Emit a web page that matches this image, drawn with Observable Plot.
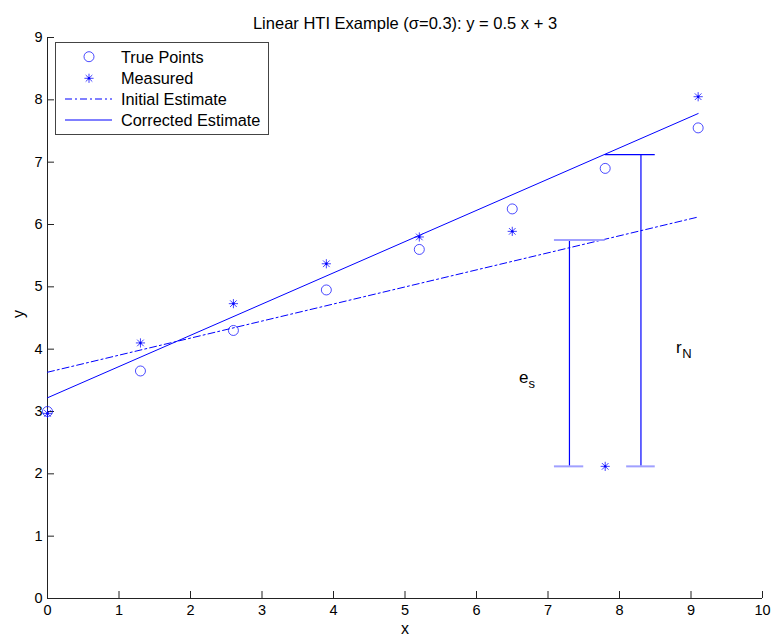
<!DOCTYPE html>
<html><head><meta charset="utf-8">
<script src="https://cdn.jsdelivr.net/npm/d3@7"></script>
<script src="https://cdn.jsdelivr.net/npm/@observablehq/plot@0.6"></script>
<style>
body{margin:0;background:#fff;}
#wrap{position:relative;width:775px;height:643px;font-family:"Liberation Sans",Arial,sans-serif;}
#legend{position:absolute;left:55px;top:42px;}
</style></head><body><div id="wrap"></div>
<script>
// ---- data ----
const titleText = "Linear HTI Example (\u03C3=0.3): y = 0.5 x + 3";
const xs = [0, 1.3, 2.6, 3.9, 5.2, 6.5, 7.8, 9.1];
const trueY = [3.0, 3.65, 4.3, 4.95, 5.6, 6.25, 6.9, 7.55];
const measuredY = [2.97, 4.1, 4.73, 5.37, 5.8, 5.89, 2.12, 8.05];
const lineX = [0, 9.1];
const initialY = [3.63, 6.12];
const correctedY = [3.22, 7.78];
const xTicks = [0, 1, 2, 3, 4, 5, 6, 7, 8, 9, 10];
const yTicks = [0, 1, 2, 3, 4, 5, 6, 7, 8, 9];
const barX = [7.3, 8.3];
const barLow = [2.12, 2.12];
const barHigh = [5.75, 7.12];
const capY = [5.75, 2.12, 7.12, 2.12];
const capX1 = [7.09, 7.09, 7.8, 8.1];
const capX2 = [7.8, 7.5, 8.5, 8.5];
const capLight = [true, true, false, true];
const labelMain = ["e", "r"];
const labelSub = ["s", "N"];
const labelX = [6.66, 8.83];
const labelY = [3.55, 4.03];
const legendLabels = ["True Points", "Measured", "Initial Estimate", "Corrected Estimate"];

// ---- layout ----
const W = 775, H = 643, mL = 47, mR = 13, mT = 37, mB = 45;
const frameW = W - mL - mR, frameH = H - mT - mB;
const blue = "#0000ff", lightBlue = "#a0a0ff";
const font = "Liberation Sans, Arial, sans-serif";

// MATLAB-style 8-armed asterisk
const asterisk8 = {
  draw(ctx, size) {
    const r = Math.sqrt(size / Math.PI), d = r * 0.72;
    ctx.moveTo(-r, 0); ctx.lineTo(r, 0);
    ctx.moveTo(0, -r); ctx.lineTo(0, r);
    ctx.moveTo(-d, -d); ctx.lineTo(d, d);
    ctx.moveTo(-d, d); ctx.lineTo(d, -d);
  }
};

const pts = xs.map((x, i) => ({x, t: trueY[i], m: measuredY[i]}));
const initLine = lineX.map((x, i) => ({x, y: initialY[i]}));
const corrLine = lineX.map((x, i) => ({x, y: correctedY[i]}));
const bars = barX.map((x, i) => ({x, y1: barLow[i], y2: barHigh[i]}));
const caps = capY.map((y, i) => ({y, x1: capX1[i], x2: capX2[i], light: capLight[i]}));
const labels = labelMain.map((t, i) => ({t, s: labelSub[i], x: labelX[i], y: labelY[i]}));

const chart = Plot.plot({
  width: W, height: H,
  marginLeft: mL, marginRight: mR, marginTop: mT, marginBottom: mB,
  style: {fontFamily: font, fontSize: "14px", background: "white", color: "black"},
  x: {domain: [0, 10]},
  y: {domain: [0, 9]},
  marks: [
    Plot.axisX(xTicks, {tickSize: 0, tickPadding: 6, fontSize: 14.5, label: null, tickFormat: d => String(d)}),
    Plot.axisY(yTicks, {tickSize: 0, tickPadding: 5, fontSize: 14.5, label: null, tickFormat: d => String(d)}),
    Plot.tickX(xTicks, {x: d => d, insetTop: frameH - 7, stroke: "#222"}),
    Plot.tickY(yTicks, {y: d => d, insetRight: frameW - 7, stroke: "#222"}),
    Plot.ruleX([0], {stroke: "#222"}),
    Plot.ruleY([0], {stroke: "#222"}),
    Plot.line(initLine, {x: "x", y: "y", stroke: blue, strokeWidth: 1, strokeDasharray: "7,3,2,3"}),
    Plot.line(corrLine, {x: "x", y: "y", stroke: blue, strokeWidth: 1}),
    Plot.ruleX(bars, {x: "x", y1: "y1", y2: "y2", stroke: blue, strokeWidth: 1.2}),
    Plot.ruleY(caps, {y: "y", x1: "x1", x2: "x2", stroke: d => d.light ? lightBlue : blue, strokeWidth: d => d.light ? 2 : 1.2}),
    Plot.dot(pts, {x: "x", y: "t", r: 5, stroke: blue, strokeWidth: 1, fill: "none", strokeOpacity: 0.7}),
    Plot.dot(pts, {x: "x", y: "m", r: 4.6, symbol: asterisk8, stroke: blue, strokeWidth: 1, strokeOpacity: 0.75}),
    Plot.dot(pts, {x: "x", y: "m", r: 1.2, fill: blue, stroke: "none"}),
    Plot.text(labels, {x: "x", y: "y", text: "t", fontSize: 17, textAnchor: "middle"}),
    Plot.text(labels, {x: "x", y: "y", text: "s", fontSize: 13, textAnchor: "middle", dx: 8, dy: 7}),
    Plot.text([titleText], {frameAnchor: "top", dy: -20, fontSize: 16.5, text: d => d}),
    Plot.text(["x"], {frameAnchor: "bottom", dy: 35, fontSize: 16, text: d => d}),
    Plot.text(["y"], {frameAnchor: "left", dx: -29, rotate: -90, fontSize: 16, text: d => d})
  ]
});
const wrap = document.getElementById("wrap");
wrap.appendChild(chart);

// ---- legend (inside the axes, as in the original) ----
const lw = 213, lh = 92, rowY = [14.7, 36.3, 57, 78];
const lg = d3.select(wrap).append("svg").attr("id", "legend")
  .attr("width", lw + 1).attr("height", lh + 1)
  .style("font-family", font).style("font-size", "16.3px");
lg.append("rect").attr("x", 0.5).attr("y", 0.5).attr("width", lw).attr("height", lh)
  .attr("fill", "white").attr("stroke", "#444");
legendLabels.forEach((t, i) => {
  const g = lg.append("g").attr("transform", `translate(0,${rowY[i]})`);
  if (i === 0) g.append("circle").attr("cx", 34).attr("cy", 0).attr("r", 5).attr("fill", "none").attr("stroke", blue).attr("stroke-opacity", 0.7);
  if (i === 1) {
    g.append("path").attr("transform", "translate(34,0)").attr("fill", "none").attr("stroke", blue).attr("stroke-opacity", 0.75)
      .attr("d", "M-4.6,0H4.6M0,-4.6V4.6M-3.3,-3.3L3.3,3.3M-3.3,3.3L3.3,-3.3");
    g.append("circle").attr("cx", 34).attr("cy", 0).attr("r", 1.2).attr("fill", blue);
  }
  if (i === 2) g.append("line").attr("x1", 10).attr("x2", 57).attr("y1", 0).attr("y2", 0).attr("stroke", blue).attr("stroke-dasharray", "7,3,2,3");
  if (i === 3) g.append("line").attr("x1", 10).attr("x2", 57).attr("y1", 0).attr("y2", 0).attr("stroke", blue);
  g.append("text").attr("x", 66).attr("y", 0).attr("dy", "0.36em").text(t);
});
</script></body></html>
